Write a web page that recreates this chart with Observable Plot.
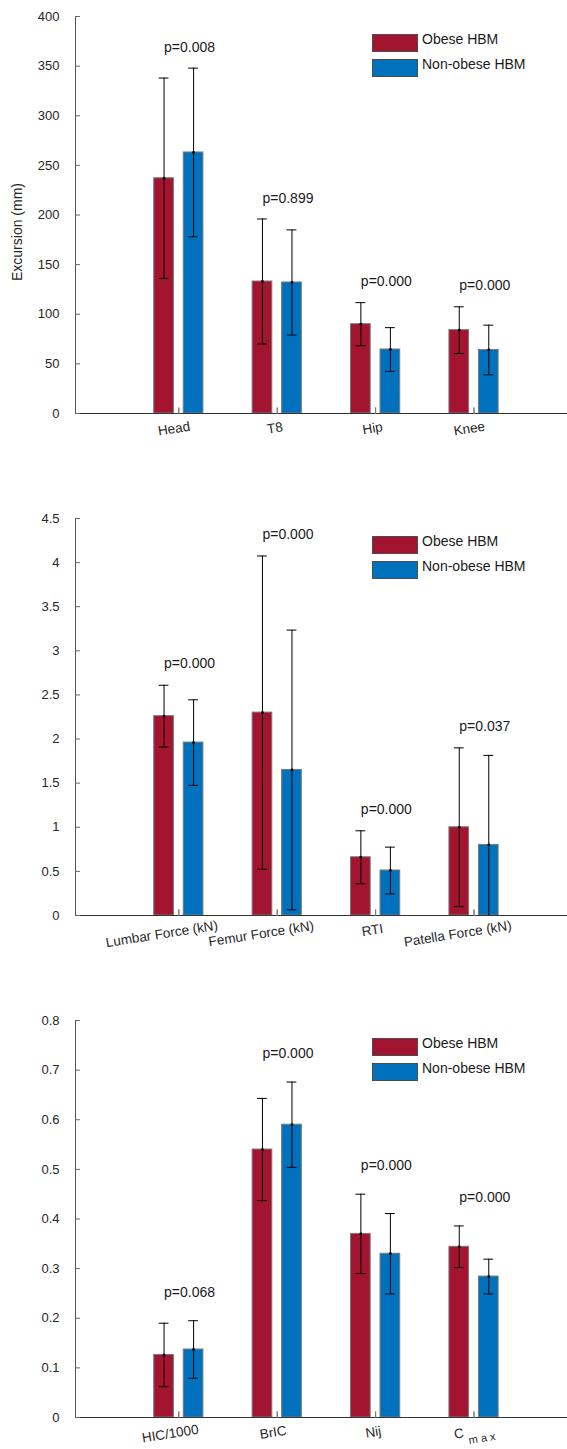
<!DOCTYPE html>
<html>
<head>
<meta charset="utf-8">
<script src="https://cdn.jsdelivr.net/npm/d3@7"></script>
<script src="https://cdn.jsdelivr.net/npm/@observablehq/plot@0.6"></script>
<style>
  body { margin: 0; background: #fff; font-family: "Liberation Sans", Arial, Helvetica, sans-serif; }
  .panel { position: relative; width: 567px; }
  .panel svg { display: block; }
  .legend { position: absolute; left: 372px; top: 34px; font-size: 14px; color: #1a1a1a; }
  .legend .item { position: relative; height: 18px; margin-bottom: 7px; }
  .legend .sw { position: absolute; left: 0; top: 0; width: 46px; height: 18px; box-sizing: border-box; border: 1px solid #4d4d4d; }
  .legend .tx { position: absolute; left: 50px; top: -4px; white-space: nowrap; line-height: 18px; }
</style>
</head>
<body>
<div id="root"></div>
<script>
// Groups and their colours
const groups = ["Obese HBM", "Non-obese HBM"];
const groupColors = ["#A2142F", "#0072BD"];

// Panel 1: body excursions (mm), mean and standard deviation
const excursionLabels = ["Head", "T8", "Hip", "Knee"];
const excursionObese = [237, 133, 90, 84];
const excursionObeseSD = [101, 63, 21.7, 23.5];
const excursionNonObese = [263, 132, 64.5, 64];
const excursionNonObeseSD = [85, 53, 22, 25];
const excursionP = ["0.008", "0.899", "0.000", "0.000"];
const excursionTicks = [0, 50, 100, 150, 200, 250, 300, 350, 400];

// Panel 2: lower-body loads and RTI
const loadLabels = ["Lumbar Force (kN)", "Femur Force (kN)", "RTI", "Patella Force (kN)"];
const loadObese = [2.26, 2.30, 0.66, 1.00];
const loadObeseSD = [0.35, 1.775, 0.30, 0.90];
const loadNonObese = [1.96, 1.65, 0.51, 0.80];
const loadNonObeseSD = [0.485, 1.585, 0.265, 1.015];
const loadP = ["0.000", "0.000", "0.000", "0.037"];
const loadTicks = [0, 0.5, 1, 1.5, 2, 2.5, 3, 3.5, 4, 4.5];

// Panel 3: head and neck injury criteria ("_" marks a subscript)
const criteriaLabels = ["HIC/1000", "BrIC", "Nij", "C_max"];
const criteriaObese = [0.126, 0.54, 0.37, 0.344];
const criteriaObeseSD = [0.064, 0.103, 0.08, 0.042];
const criteriaNonObese = [0.137, 0.59, 0.33, 0.284];
const criteriaNonObeseSD = [0.058, 0.086, 0.081, 0.035];
const criteriaP = ["0.068", "0.000", "0.000", "0.000"];
const criteriaTicks = [0, 0.1, 0.2, 0.3, 0.4, 0.5, 0.6, 0.7, 0.8];

const WIDTH = 567;
const FONT = "Liberation Sans, Arial, Helvetica, sans-serif";
const X_DOMAIN = [-0.05, 4.95];   // categories sit at 1..4
const BAR_OFFSET = 0.15;         // centre of each group's bar from the category
const BAR_HALF = 0.1;
const CAP_HALF = 0.05;
const LABEL_ROTATE = -9;
const LABEL_SIZE = 13.5;

const ctx = document.createElement("canvas").getContext("2d");
function textWidth(s, size) {
  ctx.font = `${size}px "Liberation Sans", Arial`;
  return ctx.measureText(s).width;
}
const fmt = d => `${+d.toFixed(3)}`;

function makePanel(cfg) {
  const {labels, means, sds, pValues, ticks, yLabel, pOffset, height} = cfg;
  const marginTop = 16, plotH = 397;
  const marginBottom = height - marginTop - plotH;
  const yMax = ticks[ticks.length - 1];

  const rows = [];
  groups.forEach((g, gi) => {
    labels.forEach((lab, i) => {
      const m = means[gi][i], s = sds[gi][i];
      rows.push({group: g, color: groupColors[gi], xc: i + 1 + (gi === 0 ? -BAR_OFFSET : BAR_OFFSET),
                 mean: m, lo: m - s, hi: m + s});
    });
  });

  const pRows = labels.map((lab, i) => ({
    x: i + 1 - BAR_OFFSET,
    y: Math.max(...rows.filter(r => Math.abs(r.xc - (i + 1)) < 0.5).map(r => r.hi)) + pOffset,
    text: `p=${pValues[i]}`
  }));

  // Category labels, slightly rotated
  const labelMarks = [];
  labels.forEach((lab, i) => {
    const [main, sub] = lab.split("_");
    if (!sub) {
      const w = textWidth(main, LABEL_SIZE);
      labelMarks.push(Plot.text([main], {
        x: () => i + 1, text: d => d, frameAnchor: "bottom", textAnchor: "middle", lineAnchor: "middle",
        dx: -0.15 * w, dy: 14 + 0.04 * w, rotate: LABEL_ROTATE, fontSize: LABEL_SIZE, fill: "#262626"
      }));
    } else {
      const wMain = textWidth(main, LABEL_SIZE);
      labelMarks.push(Plot.text([main], {
        x: () => i + 1, text: d => d, frameAnchor: "bottom", textAnchor: "start", lineAnchor: "middle",
        dx: -20, dy: 17, rotate: LABEL_ROTATE, fontSize: LABEL_SIZE, fill: "#262626"
      }));
      labelMarks.push(Plot.text([sub.split("").join(" ")], {
        x: () => i + 1, text: d => d, frameAnchor: "bottom", textAnchor: "start", lineAnchor: "middle",
        dx: -20 + wMain + 5, dy: 23, rotate: LABEL_ROTATE, fontSize: 11, fill: "#262626"
      }));
    }
  });

  const marks = [
    // bars
    Plot.rect(rows, {x1: d => d.xc - BAR_HALF, x2: d => d.xc + BAR_HALF, y1: 0, y2: "mean",
                     fill: "color", stroke: "#7a7a7a", strokeWidth: 1}),
    // error bars
    Plot.ruleX(rows, {x: "xc", y1: d => Math.max(d.lo, 0), y2: "hi", stroke: "#000", strokeWidth: 1}),
    Plot.ruleY(rows, {y: "hi", x1: d => d.xc - CAP_HALF, x2: d => d.xc + CAP_HALF, stroke: "#000", strokeWidth: 1}),
    Plot.ruleY(rows.filter(d => d.lo >= 0), {y: "lo", x1: d => d.xc - CAP_HALF, x2: d => d.xc + CAP_HALF, stroke: "#000", strokeWidth: 1}),
    Plot.dot(rows, {x: "xc", y: "mean", r: 1.4, fill: "#000", stroke: null}),
    // axes
    Plot.ruleY([0], {stroke: "#333", strokeWidth: 1}),
    Plot.ruleX([X_DOMAIN[0]], {stroke: "#555", strokeWidth: 1}),
    Plot.vector(labels.map((d, i) => i + 1), {x: d => d, frameAnchor: "bottom", length: 6, rotate: 0,
                 anchor: "start", stroke: "#777", strokeWidth: 1, shape: "spike", r: 0}),
    Plot.axisY({ticks, tickFormat: fmt, tickSize: -5, tickPadding: 21, fontSize: 13,
                color: "#262626", stroke: "#666", label: null}),
    // p-values
    Plot.text(pRows, {x: "x", y: "y", text: "text", textAnchor: "start", lineAnchor: "middle",
                      fontSize: 14, fill: "#1a1a1a"}),
    ...labelMarks
  ];
  if (yLabel) {
    marks.push(Plot.text([yLabel], {text: d => d, frameAnchor: "left", rotate: -90, dx: -58, dy: 17,
                                    textAnchor: "middle", lineAnchor: "middle", fontSize: 14, fill: "#262626"}));
  }

  const svg = Plot.plot({
    width: WIDTH, height, marginTop, marginBottom, marginLeft: 75, marginRight: 0,
    style: {fontFamily: FONT, fontSize: "13px", background: "#fff", overflow: "visible"},
    x: {type: "linear", domain: X_DOMAIN, axis: null},
    y: {domain: [0, yMax], axis: null},
    marks
  });

  const wrap = document.createElement("div");
  wrap.className = "panel";
  wrap.style.height = `${height}px`;
  wrap.appendChild(svg);
  const legend = document.createElement("div");
  legend.className = "legend";
  groups.forEach((g, gi) => {
    const item = document.createElement("div");
    item.className = "item";
    const sw = document.createElement("span");
    sw.className = "sw";
    sw.style.background = groupColors[gi];
    const tx = document.createElement("span");
    tx.className = "tx";
    tx.textContent = g;
    item.append(sw, tx);
    legend.appendChild(item);
  });
  wrap.appendChild(legend);
  return wrap;
}

const root = document.getElementById("root");
root.appendChild(makePanel({
  labels: excursionLabels,
  means: [excursionObese, excursionNonObese], sds: [excursionObeseSD, excursionNonObeseSD],
  pValues: excursionP, ticks: excursionTicks, yLabel: "Excursion (mm)", pOffset: 21, height: 502
}));
root.appendChild(makePanel({
  labels: loadLabels,
  means: [loadObese, loadNonObese], sds: [loadObeseSD, loadNonObeseSD],
  pValues: loadP, ticks: loadTicks, yLabel: null, pOffset: 0.245, height: 502
}));
root.appendChild(makePanel({
  labels: criteriaLabels,
  means: [criteriaObese, criteriaNonObese], sds: [criteriaObeseSD, criteriaNonObeseSD],
  pValues: criteriaP, ticks: criteriaTicks, yLabel: null, pOffset: 0.057, height: 445
}));
</script>
</body>
</html>
